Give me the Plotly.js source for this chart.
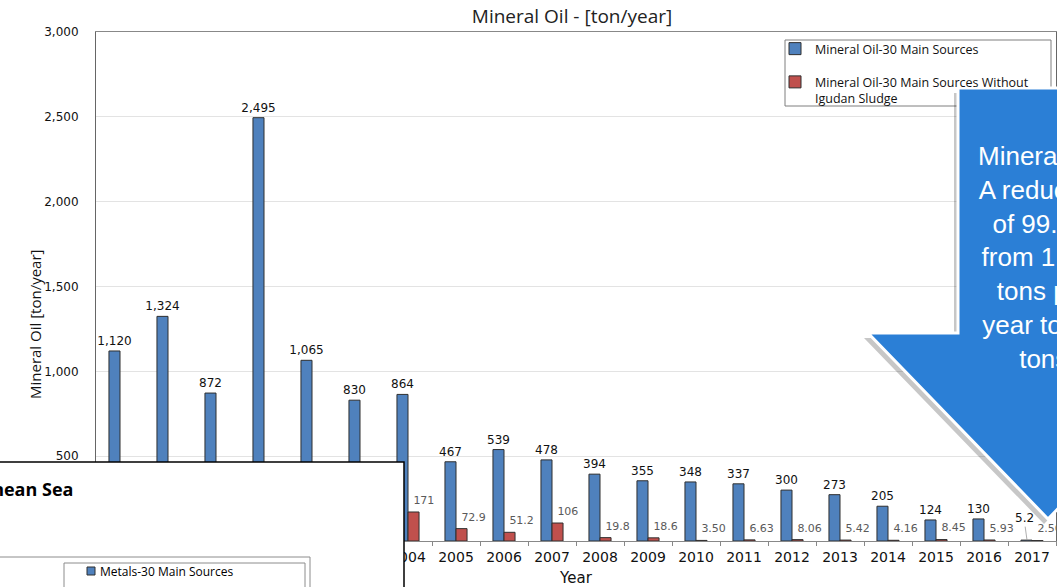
<!DOCTYPE html>
<html>
<head>
<meta charset="utf-8">
<script src="https://cdn.plot.ly/plotly-3.0.1.min.js"></script>
<style>
  html, body { margin: 0; padding: 0; background: #fff; }
  #graph { width: 1057px; height: 587px; }
</style>
</head>
<body>
<div id="graph"></div>
<script>
// data
const years = ['1998', '1999', '2000', '2001', '2002', '2003', '2004', '2005', '2006', '2007',
  '2008', '2009', '2010', '2011', '2012', '2013', '2014', '2015', '2016', '2017'];
const mainSources = [1120, 1324, 872, 2495, 1065, 830, 864, 467, 539, 478,
  394, 355, 348, 337, 300, 273, 205, 124, 130, 5.2];
// 1998-2003 are hidden behind the overlay box, estimated
const withoutSludge = [260, 300, 220, 340, 250, 190, 171, 72.9, 51.2, 106,
  19.8, 18.6, 3.50, 6.63, 8.06, 5.42, 4.16, 8.45, 5.93, 2.56];

const blueName = 'Mineral Oil-30 Main Sources';
const redName = 'Mineral Oil-30 Main Sources Without<br>Igudan Sludge';

// pixel -> paper helpers (plot area 96..1056 x 32..541)
function px(x) { return (x - 96) / 960; }
function py(y) { return (541 - y) / 509; }

function plotGraph() {
  const last = years.length - 1;
  const blueText = mainSources.map((v, i) => i === last ? '' : v.toLocaleString('en-US'));
  const redText = withoutSludge.map(v => v.toPrecision(3));

  const blue = {
    x: years, y: mainSources, type: 'bar', name: blueName,
    legendgroup: 'a',
    marker: { color: '#4F81BD', line: { color: '#2f2f2f', width: 1 } },
    text: blueText, textposition: 'outside', cliponaxis: false, constraintext: 'none',
    textfont: { family: 'DejaVu Sans', size: 12, color: '#111' },
    hoverinfo: 'x+y'
  };
  const red = {
    x: years, y: withoutSludge, type: 'bar', name: redName,
    legendgroup: 'b',
    marker: { color: '#C0504D', line: { color: '#2f2f2f', width: 1 } },
    textposition: 'none',
    hoverinfo: 'x+y'
  };
  const redLabels = {
    x: years, y: withoutSludge, type: 'scatter', mode: 'markers+text',
    text: redText, textposition: 'top right', cliponaxis: false,
    marker: { size: 7, color: 'rgba(0,0,0,0)' },
    textfont: { family: 'DejaVu Sans', size: 11, color: '#5a5a5a' },
    showlegend: false, hoverinfo: 'skip'
  };

  const arrow = [[958, 88], [1138, 88], [1138, 333], [1228, 333], [1048, 519], [868, 333], [958, 333]];
  const arrowPath = (dx, dy) => 'M' + arrow.map(p => px(p[0] + dx) + ',' + py(p[1] + dy)).join('L') + 'Z';

  const shapes = [
    // legend frame
    { type: 'rect', xref: 'paper', yref: 'paper', x0: px(785), x1: px(1051), y0: py(40), y1: py(106),
      line: { color: '#7f7f7f', width: 1 }, fillcolor: 'rgba(0,0,0,0)', layer: 'above' },
    // arrow callout shadow + body
    { type: 'path', xref: 'paper', yref: 'paper', path: arrowPath(-4, 5),
      fillcolor: 'rgba(0,0,0,0.22)', line: { width: 0 }, layer: 'above' },
    { type: 'path', xref: 'paper', yref: 'paper', path: arrowPath(0, 0),
      fillcolor: '#2B7FD6', line: { color: '#ffffff', width: 3 }, layer: 'above' },
    // overlapping slide box, bottom left
    { type: 'rect', xref: 'paper', yref: 'paper', x0: px(-10), x1: px(404), y0: py(600), y1: py(462),
      fillcolor: '#ffffff', line: { color: '#000', width: 1.5 }, layer: 'above' },
    { type: 'path', xref: 'paper', yref: 'paper',
      path: 'M' + px(-10) + ',' + py(557) + 'L' + px(310) + ',' + py(557) + 'L' + px(310) + ',' + py(600),
      line: { color: '#8c8c8c', width: 1 }, layer: 'above' },
    { type: 'rect', xref: 'paper', yref: 'paper', x0: px(64), x1: px(305), y0: py(600), y1: py(563),
      fillcolor: 'rgba(0,0,0,0)', line: { color: '#8c8c8c', width: 1 }, layer: 'above' },
    { type: 'rect', xref: 'paper', yref: 'paper', x0: px(87), x1: px(95), y0: py(575), y1: py(567),
      fillcolor: '#4F81BD', line: { color: '#2f2f2f', width: 1 }, layer: 'above' }
  ];

  const annotations = [
    { xref: 'paper', yref: 'paper', x: px(23), y: py(325), text: 'Mineral Oil [ton/year]', textangle: -90,
      showarrow: false, font: { family: 'Open Sans', size: 15, color: '#111' } },
    // 2017 label sits a bit higher with a leader line
    { x: last, y: mainSources[last], xshift: -5, yshift: 0,
      text: '5.2', showarrow: true, arrowhead: 0, arrowwidth: 0.8, arrowcolor: '#999',
      ax: -3, ay: -22, font: { family: 'DejaVu Sans', size: 12, color: '#111' } },
    { xref: 'paper', yref: 'paper', x: px(1043), y: py(257), xanchor: 'center', yanchor: 'middle',
      text: 'Mineral Oil:<br>A reduction<br>of 99.5%<br>from 1,120<br>tons per<br>year to 5.2<br>tons',
      showarrow: false, align: 'center', font: { family: 'Liberation Sans', size: 26, color: '#ffffff' } },
    { xref: 'paper', yref: 'paper', x: px(75), y: py(489), xanchor: 'right', yanchor: 'middle',
      text: '<b>Mediterranean Sea</b>', showarrow: false,
      font: { family: 'Open Sans', size: 18, color: '#000' } },
    { xref: 'paper', yref: 'paper', x: px(98), y: py(571), xanchor: 'left', yanchor: 'middle',
      text: 'Metals-30 Main Sources', showarrow: false,
      font: { family: 'Open Sans', size: 12, color: '#000' } }
  ];

  const layout = {
    width: 1057, height: 587,
    margin: { l: 96, r: 1, t: 32, b: 46 },
    paper_bgcolor: '#fff', plot_bgcolor: '#fff',
    title: { text: 'Mineral Oil - [ton/year]', xref: 'container', x: 572 / 1057, xanchor: 'center',
      yref: 'container', y: 1 - 16 / 587, yanchor: 'middle',
      font: { family: 'Open Sans', size: 19, color: '#222' } },
    barmode: 'group', bargap: 0.54, bargroupgap: 0,
    xaxis: {
      type: 'category', range: [-0.5, 19.5],
      tickson: 'boundaries', ticks: 'outside', ticklen: 4, tickcolor: '#888',
      showline: true, linecolor: '#888', linewidth: 1, mirror: true,
      showgrid: false, tickangle: 0, ticklabelstandoff: 3,
      tickfont: { family: 'DejaVu Sans', size: 14, color: '#111' },
      title: { text: 'Year', standoff: 8, font: { family: 'DejaVu Sans', size: 15, color: '#111' } }
    },
    yaxis: {
      range: [0, 3000], dtick: 500, tickformat: ',d',
      showline: true, linecolor: '#666', linewidth: 1, mirror: true,
      gridcolor: '#e3e3e3', zeroline: false, ticks: '', ticklabelstandoff: 14,
      tickfont: { family: 'DejaVu Sans', size: 12, color: '#111' }
    },
    legend: {
      x: px(775), y: py(34), xanchor: 'left', yanchor: 'top',
      bgcolor: 'rgba(0,0,0,0)', borderwidth: 0,
      traceorder: 'grouped', tracegroupgap: 14, valign: 'top',
      font: { family: 'Open Sans', size: 12.5, color: '#111' }
    },
    shapes: shapes,
    annotations: annotations
  };

  Plotly.newPlot('graph', [blue, red, redLabels], layout, { displayModeBar: false, staticPlot: true });
}

plotGraph();
</script>
</body>
</html>
